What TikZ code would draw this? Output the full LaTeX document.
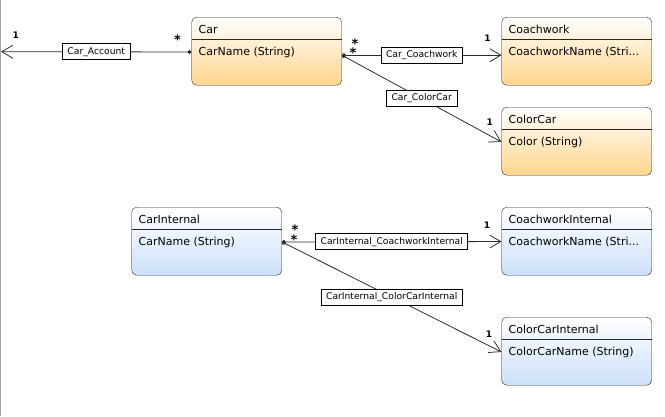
\documentclass[tikz,border=0pt]{standalone}
\usepackage{fontspec}
\setmainfont{DejaVu Sans}
\usetikzlibrary{arrows.meta}
\definecolor{entorange}{RGB}{255,213,140}
\definecolor{entblue}{RGB}{204,224,250}
\definecolor{linegray}{RGB}{45,45,45}
\tikzset{
  entity/.style={draw=black!85, rounded corners=5pt, minimum width=150pt, minimum height=68pt, inner sep=0pt, top color=white},
  orangebox/.style={entity, bottom color=entorange},
  bluebox/.style={entity, bottom color=entblue},
  enttext/.style={anchor=base west, inner sep=0pt, font=\fontsize{11}{13}\selectfont},
  assoc/.style={draw=linegray, line width=0.8pt, {Circle[length=4pt]}-{Straight Barb[length=11pt,width=13pt]}},
  assoclabel/.style={draw=black, fill=white, line width=0.7pt, inner xsep=5pt, inner ysep=0pt, minimum height=16pt, font=\fontsize{9.2}{10}\selectfont},
  mult/.style={inner sep=0pt, font=\fontsize{9}{10}\selectfont\bfseries},
  star/.style={inner sep=0pt, font=\fontsize{13}{14}\selectfont\bfseries}
}
\begin{document}
\begin{tikzpicture}[x=1pt,y=-1pt]
\useasboundingbox (0,0) rectangle (665,416);
\draw[gray!70] (0.5,0) -- (0.5,416);
% entities
\node[orangebox] (car) at (266.7,51.2) {};
\node[orangebox] (coachwork) at (576.7,51.2) {};
\node[orangebox] (colorcar) at (576.7,141.2) {};
\node[bluebox] (carint) at (206.7,241.2) {};
\node[bluebox] (coachworkint) at (576.7,241.2) {};
\node[bluebox] (colorcarint) at (576.7,351.2) {};
\foreach \e in {car,coachwork,colorcar,carint,coachworkint,colorcarint}
  \draw[black!85] ([yshift=-22pt]\e.north west) -- ([yshift=-22pt]\e.north east);
% titles and attributes
\node[enttext] (cartitle) at ([xshift=7pt,yshift=-16pt]car.north west) {Car};
\node[enttext] (carattr) at ([xshift=7pt,yshift=-38pt]car.north west) {CarName (String)};
\node[enttext] (cwtitle) at ([xshift=7pt,yshift=-16pt]coachwork.north west) {Coachwork};
\node[enttext] (cwattr) at ([xshift=7pt,yshift=-38pt]coachwork.north west) {CoachworkName (Stri...};
\node[enttext] (cctitle) at ([xshift=7pt,yshift=-16pt]colorcar.north west) {ColorCar};
\node[enttext] (ccattr) at ([xshift=7pt,yshift=-38pt]colorcar.north west) {Color (String)};
\node[enttext] (cititle) at ([xshift=7pt,yshift=-16pt]carint.north west) {CarInternal};
\node[enttext] (ciattr) at ([xshift=7pt,yshift=-38pt]carint.north west) {CarName (String)};
\node[enttext] (cwititle) at ([xshift=7pt,yshift=-16pt]coachworkint.north west) {CoachworkInternal};
\node[enttext] (cwiattr) at ([xshift=7pt,yshift=-38pt]coachworkint.north west) {CoachworkName (Stri...};
\node[enttext] (ccititle) at ([xshift=7pt,yshift=-16pt]colorcarint.north west) {ColorCarInternal};
\node[enttext] (cciattr) at ([xshift=7pt,yshift=-38pt]colorcarint.north west) {ColorCarName (String)};
% associations
\coordinate (account) at (1,51.7);
\coordinate (carR) at ([yshift=-4pt]car.east);
\draw[assoc] (car.west |- carattr) -- node[assoclabel] {Car\_Account}
  node[star, at start, xshift=-14pt, yshift=12pt] {*}
  node[mult, at end, xshift=14.7pt, yshift=16pt] {1} (account);
\draw[assoc] (carR) -- node[assoclabel] {Car\_Coachwork}
  node[star, at start, xshift=13pt, yshift=12pt] {*}
  node[mult, at end, xshift=-14pt, yshift=16.7pt] {1} (coachwork.west |- carR);
\draw[assoc] (carR) -- node[assoclabel] {Car\_ColorCar}
  node[star, at start, xshift=11pt, yshift=2.5pt] {*}
  node[mult, at end, xshift=-11.7pt, yshift=20pt] {1} (colorcar.west |- ccattr);
\draw[assoc] (carint.east |- ciattr) -- node[assoclabel] {CarInternal\_CoachworkInternal}
  node[star, at start, xshift=13pt, yshift=12pt] {*}
  node[mult, at end, xshift=-14.4pt, yshift=16pt] {1} (coachworkint.west |- cwiattr);
\draw[assoc] (carint.east |- ciattr) -- node[assoclabel] {CarInternal\_ColorCarInternal}
  node[star, at start, xshift=12pt, yshift=2.5pt] {*}
  node[mult, at end, xshift=-12.4pt, yshift=17.7pt] {1} (colorcarint.west |- cciattr);
\end{tikzpicture}
\end{document}
